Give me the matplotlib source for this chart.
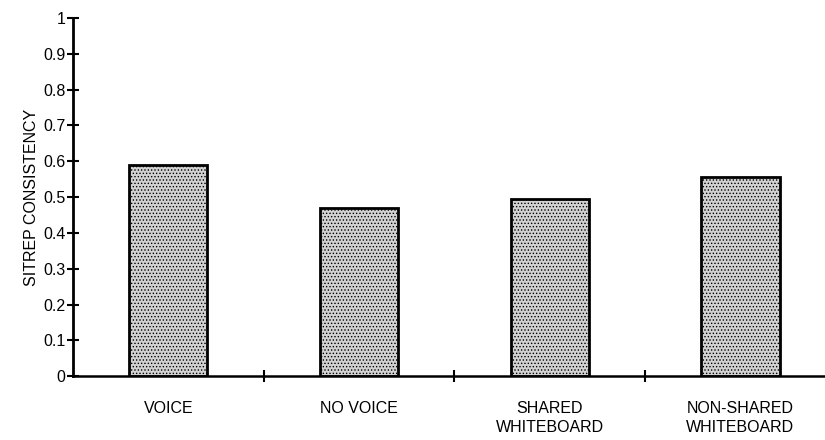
import numpy as np
import matplotlib
matplotlib.use('Agg')
from matplotlib import pyplot as plt

plt.rcParams['font.family'] = ['Liberation Sans', 'DejaVu Sans']
plt.rcParams['hatch.color'] = '#8a8a8a'
plt.rcParams['hatch.linewidth'] = 0.6

conditions = ['VOICE', 'NO VOICE', 'SHARED\nWHITEBOARD', 'NON-SHARED\nWHITEBOARD']
consistency = [0.59, 0.47, 0.495, 0.555]
yticks = [0, 0.1, 0.2, 0.3, 0.4, 0.5, 0.6, 0.7, 0.8, 0.9, 1]
ytick_labels = ['0', '0.1', '0.2', '0.3', '0.4', '0.5', '0.6', '0.7', '0.8', '0.9', '1']

fig = plt.figure(figsize=(8.25, 4.4), dpi=100)
ax = fig.add_axes([0.0885, 0.145, 0.92, 0.814])

x = np.arange(len(conditions))
ax.bar(x, consistency, width=0.41, color='#d2d2d2', edgecolor='black',
       linewidth=2, hatch='.....', zorder=2)

ax.set_xlim(-0.5, 3.48)
ax.set_ylim(0, 1)
ax.set_yticks(yticks)
ax.set_yticklabels(ytick_labels, fontsize=11.5)
ax.set_xticks(x)
ax.set_xticklabels(conditions, fontsize=11.5, linespacing=1.3)
ax.tick_params(axis='x', length=0, pad=18)
# category boundary ticks
ax.set_xticks(x[:-1] + 0.5, minor=True)
ax.tick_params(axis='x', which='minor', direction='inout', length=9, width=1.5)
ax.tick_params(axis='y', direction='inout', length=9, width=1.5, pad=1)

ax.set_ylabel('SITREP CONSISTENCY', fontsize=11.5, labelpad=3)

for s in ['top', 'right']:
    ax.spines[s].set_visible(False)
ax.spines['left'].set_linewidth(2)
ax.spines['bottom'].set_linewidth(1.8)

fig.savefig('out.png', dpi=100)
